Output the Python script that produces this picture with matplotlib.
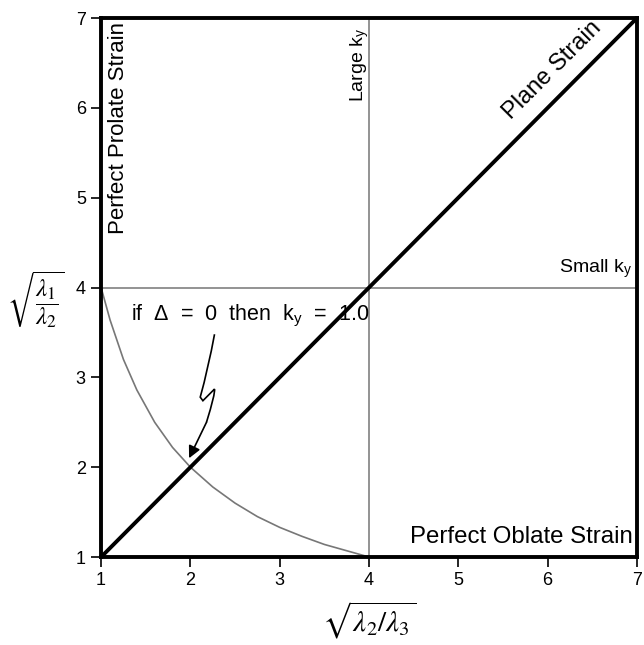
import matplotlib
matplotlib.use("Agg")
import matplotlib.pyplot as plt
from matplotlib.path import Path
from matplotlib.patches import PathPatch

plt.rcParams['font.family'] = ['Liberation Sans', 'DejaVu Sans']
plt.rcParams['mathtext.fontset'] = 'stix'

# data
ticks = [1, 2, 3, 4, 5, 6, 7]
plane_x = [1, 7]
plane_y = [1, 7]
curve_x = [1.0, 1.1, 1.25, 1.4, 1.6, 1.8, 2.0, 2.25, 2.5, 2.75, 3.0, 3.25, 3.5, 3.75, 4.0]
curve_y = [4.0, 3.64, 3.2, 2.86, 2.5, 2.22, 2.0, 1.78, 1.6, 1.45, 1.33, 1.23, 1.14, 1.07, 1.0]
k_level = 4

fig = plt.figure(figsize=(6.44, 6.45), dpi=100)
ax = fig.add_axes([0.157, 0.1364, 0.832, 0.8356])
ax.set_xlim(1, 7)
ax.set_ylim(1, 7)
ax.set_xticks(ticks)
ax.set_yticks(ticks)
for s in ax.spines.values():
    s.set_linewidth(2.8)
ax.tick_params(direction='out', length=7, width=1.2, labelsize=13, pad=4)

ax.axhline(k_level, color='#808080', lw=1.2, zorder=1)
ax.axvline(k_level, color='#808080', lw=1.2, zorder=1)
ax.plot(plane_x, plane_y, color='black', lw=2.8, zorder=3, solid_capstyle='butt')
ax.plot(curve_x, curve_y, color='#777777', lw=1.2, zorder=2)

# lightning arrow
verts = [(2.27, 3.48), (2.20, 3.1), (2.11, 2.78), (2.14, 2.74), (2.27, 2.87), (2.28, 2.82), (2.18, 2.5)]
codes = [Path.MOVETO, Path.CURVE3, Path.CURVE3, Path.LINETO, Path.LINETO, Path.CURVE3, Path.CURVE3]
ax.add_patch(PathPatch(Path(verts, codes), fill=False, lw=1.2, color='black', zorder=4))
ax.annotate('', xy=(1.985, 2.1), xytext=(2.18, 2.5),
            arrowprops=dict(arrowstyle='-|>', color='black', lw=1.2, mutation_scale=18,
                            shrinkA=0, shrinkB=0), zorder=4)

ax.text(1.19, 6.96, 'Perfect Prolate Strain', rotation=90, ha='center', va='top', fontsize=16)
ax.text(3.89, 6.89, 'Large k$_\\mathregular{y}$', rotation=90, ha='center', va='top', fontsize=14)
ax.text(6.1, 6.37, 'Plane Strain', rotation=45, ha='center', va='baseline', fontsize=17,
        rotation_mode='anchor')
ax.text(6.95, 4.08, 'Small k$_\\mathregular{y}$', ha='right', va='bottom', fontsize=14)
ax.text(6.95, 1.1, 'Perfect Oblate Strain', ha='right', va='bottom', fontsize=17.3)
ax.text(1.33, 3.69, 'if  Δ  =  0  then  k$_\\mathregular{y}$  =  1.0', ha='left', va='center',
        fontsize=15.5)

fig.text(0.055, 0.535, r'$\sqrt{\dfrac{\lambda_1}{\lambda_2}}$', ha='center', va='center', fontsize=18)
fig.text(0.573, 0.039, r'$\sqrt{\lambda_2/\lambda_3}$', ha='center', va='center', fontsize=21)

fig.savefig('out.png', dpi=100)
